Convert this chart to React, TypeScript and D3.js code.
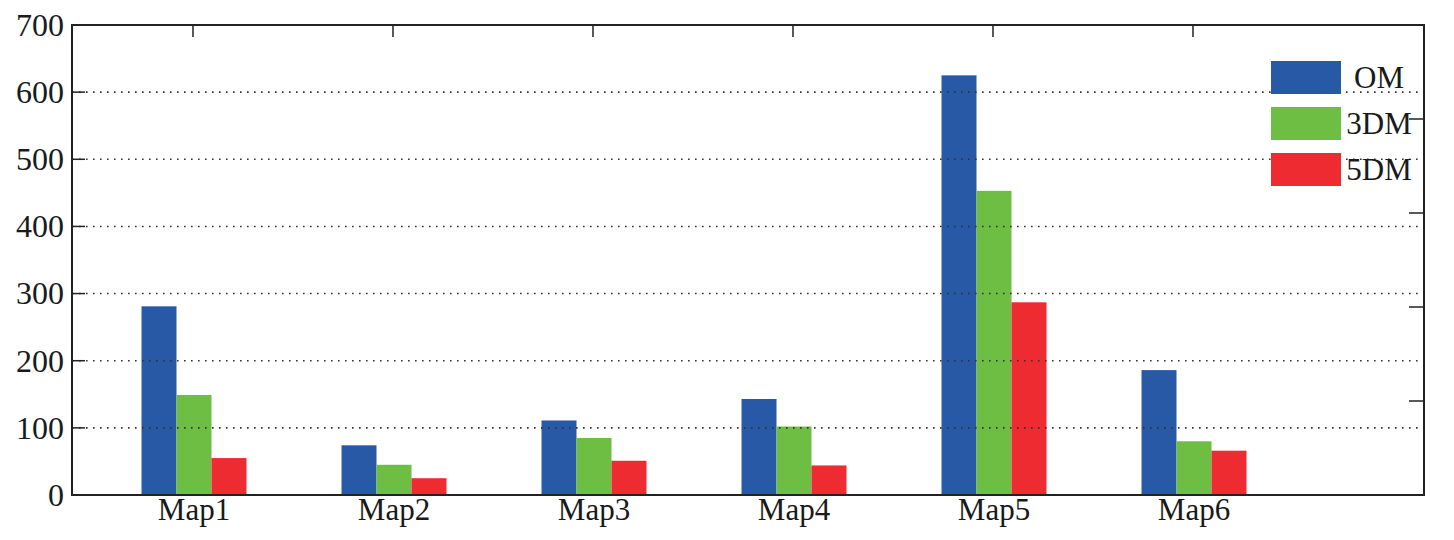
import * as d3 from "d3";
import React, { useEffect, useRef } from "react";

const categories = ["Map1", "Map2", "Map3", "Map4", "Map5", "Map6"];
const seriesNames = ["OM", "3DM", "5DM"];
const omValues = [281, 74, 111, 143, 625, 186];
const dm3Values = [149, 45, 85, 102, 453, 80];
const dm5Values = [55, 25, 51, 44, 287, 66];
const yTicks = [0, 100, 200, 300, 400, 500, 600, 700];
const gridValues = [100, 200, 300, 400, 500, 600];

const colors = ["#2859A7", "#6EBE44", "#EE2B31"];

export default function App() {
  const ref = useRef<SVGSVGElement | null>(null);

  useEffect(() => {
    const svg = d3.select(ref.current);
    svg.selectAll("*").remove();

    const width = 1454;
    const height = 540;
    const margin = { top: 25, right: 30, bottom: 45, left: 72 };
    const font = "'Liberation Serif', 'Times New Roman', serif";

    svg.attr("width", width).attr("height", height);

    const x = d3
      .scaleLinear()
      .domain([0.395, 7.155])
      .range([margin.left, width - margin.right]);

    const y = d3
      .scaleLinear()
      .domain([0, 700])
      .range([height - margin.bottom, margin.top]);

    const barW = 35;
    const series = [omValues, dm3Values, dm5Values];

    // bars
    series.forEach((vals, s) => {
      svg
        .append("g")
        .attr("fill", colors[s])
        .selectAll("rect")
        .data(vals)
        .enter()
        .append("rect")
        .attr("x", (_d, i) => x(i + 1) + (s - 1) * barW - barW / 2 + 1)
        .attr("y", (d) => y(d))
        .attr("width", barW)
        .attr("height", (d) => y(0) - y(d));
    });

    const left = margin.left;
    const right = width - margin.right;
    const top = y(700);
    const bottom = y(0);

    // dotted grid, drawn over the bars
    svg
      .append("g")
      .selectAll("line")
      .data(gridValues)
      .enter()
      .append("line")
      .attr("x1", left)
      .attr("x2", right)
      .attr("y1", (d) => y(d))
      .attr("y2", (d) => y(d))
      .attr("stroke", "#333")
      .attr("stroke-width", 1.6)
      .attr("stroke-dasharray", "1.6,5.4");

    // left ticks (inward)
    svg
      .append("g")
      .selectAll("line")
      .data(yTicks)
      .enter()
      .append("line")
      .attr("x1", left)
      .attr("x2", left + 13)
      .attr("y1", (d) => y(d))
      .attr("y2", (d) => y(d))
      .attr("stroke", "#222")
      .attr("stroke-width", 1.5);

    // right ticks at fifths
    const rightTicks = d3.range(1, 5).map((k) => top + ((bottom - top) * k) / 5);
    svg
      .append("g")
      .selectAll("line")
      .data(rightTicks)
      .enter()
      .append("line")
      .attr("x1", right - 15)
      .attr("x2", right)
      .attr("y1", (d) => d)
      .attr("y2", (d) => d)
      .attr("stroke", "#222")
      .attr("stroke-width", 1.5);

    // top ticks at categories
    svg
      .append("g")
      .selectAll("line")
      .data(categories)
      .enter()
      .append("line")
      .attr("x1", (_d, i) => x(i + 1))
      .attr("x2", (_d, i) => x(i + 1))
      .attr("y1", top)
      .attr("y2", top + 12)
      .attr("stroke", "#222")
      .attr("stroke-width", 1.5);

    // frame
    svg
      .append("rect")
      .attr("x", left)
      .attr("y", top)
      .attr("width", right - left)
      .attr("height", bottom - top)
      .attr("fill", "none")
      .attr("stroke", "#222")
      .attr("stroke-width", 2);

    // y labels
    svg
      .append("g")
      .selectAll("text")
      .data(yTicks)
      .enter()
      .append("text")
      .attr("x", left - 8)
      .attr("y", (d) => y(d))
      .attr("dy", "0.34em")
      .attr("text-anchor", "end")
      .attr("font-family", font)
      .attr("font-size", 32)
      .attr("fill", "#1a1a1a")
      .text((d) => String(d));

    // x labels
    svg
      .append("g")
      .selectAll("text")
      .data(categories)
      .enter()
      .append("text")
      .attr("x", (_d, i) => x(i + 1) + 1)
      .attr("y", bottom + 25)
      .attr("text-anchor", "middle")
      .attr("font-family", font)
      .attr("font-size", 31)
      .attr("fill", "#1a1a1a")
      .text((d) => d);

    // legend
    const legend = svg.append("g");
    seriesNames.forEach((name, s) => {
      const ly = 61 + s * 46;
      legend
        .append("rect")
        .attr("x", 1271)
        .attr("y", ly)
        .attr("width", 70)
        .attr("height", 33)
        .attr("fill", colors[s]);
      legend
        .append("text")
        .attr("x", 1379)
        .attr("y", ly + 27)
        .attr("text-anchor", "middle")
        .attr("font-family", font)
        .attr("font-size", 31)
        .attr("fill", "#1a1a1a")
        .text(name);
    });
  }, []);

  return (
    <svg
      ref={ref}
      style={{ position: "absolute", left: 0, top: 0, background: "#fff" }}
    />
  );
}
